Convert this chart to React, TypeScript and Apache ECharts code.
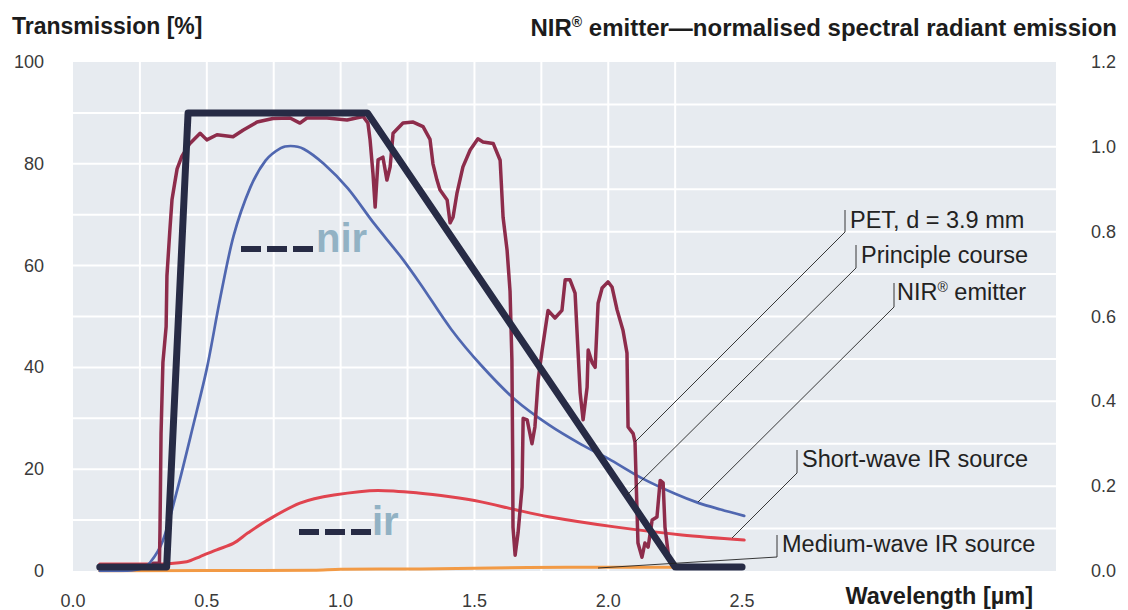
import React, { useEffect, useRef } from 'react';
import * as echarts from 'echarts';

// ---------- data ----------
const xLabelsMax = 2.5;
const leftTicks = { min: 0, max: 100, interval: 20 };
const rightTicks = { min: 0, max: 1.2, interval: 0.2 };

// Principle course (transmission, %)
const principleX = [0.1, 0.35, 0.43, 1.1, 2.25, 2.5];
const principleT = [0.8, 0.8, 90, 90, 0.8, 0.8];

// PET, d = 3.9 mm (transmission, %)
const petX = [0.3, 0.323, 0.325, 0.329, 0.336, 0.348, 0.351, 0.362, 0.37, 0.381, 0.389, 0.407, 0.437, 0.475, 0.5, 0.538, 0.598, 0.635, 0.688, 0.747, 0.811, 0.848, 0.874, 0.949, 1.024, 1.084, 1.102, 1.11, 1.121, 1.129, 1.14, 1.158, 1.173, 1.185, 1.196, 1.233, 1.271, 1.308, 1.334, 1.345, 1.36, 1.371, 1.398, 1.409, 1.42, 1.435, 1.457, 1.484, 1.513, 1.532, 1.57, 1.596, 1.607, 1.622, 1.633, 1.64, 1.643, 1.644, 1.652, 1.663, 1.678, 1.682, 1.697, 1.715, 1.726, 1.738, 1.753, 1.764, 1.775, 1.801, 1.827, 1.839, 1.857, 1.876, 1.895, 1.906, 1.921, 1.925, 1.94, 1.951, 1.962, 1.977, 1.999, 2.014, 2.033, 2.055, 2.07, 2.074, 2.093, 2.1, 2.111, 2.126, 2.137, 2.149, 2.164, 2.182, 2.194, 2.205, 2.212, 2.224];
const petT = [1.5, 1.5, 8, 27, 41, 48, 58, 67, 73, 76.5, 79, 81.5, 84, 86, 84.7, 85.7, 85.3, 86.6, 88.2, 88.9, 89, 88, 89, 89, 88.6, 89.3, 88, 84.7, 78, 71.5, 80.8, 81.3, 76.8, 79.4, 86, 88, 88.2, 87.3, 84.8, 80, 76.8, 74.9, 72.9, 68.4, 69.5, 74.3, 79.4, 82.7, 84.9, 84.3, 84, 80.7, 69.5, 63, 55, 41.4, 21.8, 8.6, 3.1, 7.5, 16.5, 30, 29.7, 25, 28.3, 37.5, 43.4, 47.3, 51.2, 49.7, 51.2, 57.2, 57.2, 54.6, 35, 29.7, 36.1, 43.4, 40.9, 40, 52.6, 55.6, 56.8, 55.8, 51.3, 47.3, 42.8, 28.3, 27, 25.3, 5.5, 2.7, 5.5, 4.7, 10, 10.6, 17.8, 17.3, 8.6, 3.5];

// NIR emitter (normalised emission)
const nirX = [0.1, 0.2, 0.25, 0.288, 0.336, 0.389, 0.448, 0.501, 0.549, 0.6, 0.663, 0.72, 0.776, 0.813, 0.862, 0.937, 1.027, 1.124, 1.226, 1.3, 1.413, 1.525, 1.65, 1.777, 1.9, 2.0, 2.125, 2.25, 2.339, 2.42, 2.508];
const nirE = [0, 0.001, 0.005, 0.02, 0.072, 0.19, 0.34, 0.48, 0.64, 0.79, 0.905, 0.968, 0.997, 1.002, 0.995, 0.96, 0.902, 0.82, 0.74, 0.675, 0.57, 0.485, 0.405, 0.345, 0.298, 0.265, 0.219, 0.182, 0.16, 0.145, 0.13];

// Short-wave IR source (normalised emission)
const swX = [0.1, 0.3, 0.425, 0.475, 0.537, 0.599, 0.654, 0.727, 0.848, 0.975, 1.14, 1.29, 1.409, 1.525, 1.65, 1.777, 2.024, 2.275, 2.508];
const swE = [0.0165, 0.0165, 0.022, 0.034, 0.05, 0.065, 0.09, 0.12, 0.16, 0.179, 0.19, 0.184, 0.175, 0.163, 0.145, 0.128, 0.104, 0.085, 0.073];

// Medium-wave IR source (normalised emission)
const mwX = [0.1, 0.5, 0.9, 1.0, 1.3, 1.7, 2.0, 2.25, 2.5];
const mwE = [0, 0.001, 0.002, 0.004, 0.005, 0.008, 0.009, 0.009, 0.008];

// grid lines
const verticalGrid = [0.25, 0.5, 0.75, 1.0, 1.25, 1.5, 1.75, 2.0, 2.25];
const leftGrid = [10, 20, 30, 40, 50, 60, 70, 80, 90];
const rightGrid = [0.1, 0.2, 0.3, 0.4, 0.5, 0.6, 0.7, 0.8, 0.9, 1.0, 1.1];

const xMax = 3.673;

const zip = (xs: number[], ys: number[]) => xs.map((x, i) => [x, ys[i]]);

// x where the descending edge of the principle course reaches transmission t
function descendX(t: number): number {
  const x0 = principleX[3], x1 = principleX[4];
  const t0 = principleT[3], t1 = principleT[4];
  if (t >= t0) return x0;
  return x0 + ((x1 - x0) * (t0 - t)) / (t0 - t1);
}

const FONT = '"Liberation Sans", Arial, sans-serif';
const INK = '#1c1c1c';
const LABEL_SIZE = 23.5;

export default function App() {
  const ref = useRef<HTMLDivElement>(null);

  useEffect(() => {
    document.body.style.margin = '0';
    if (!ref.current) return;
    const chart = echarts.init(ref.current, undefined, { renderer: 'svg' });

    const ratio = leftTicks.max / rightTicks.max;
    const vItems = verticalGrid.map((x) => [x, 0, x, 100]);
    const lItems = leftGrid.map((v) => [0, v, Math.min(descendX(v), 2.25), v]);
    const rItems = rightGrid.map((v) => [descendX(v * ratio), v * ratio, xMax, v * ratio]);

    const gridSeries = (items: number[][]) => ({
      type: 'custom',
      xAxisIndex: 0,
      yAxisIndex: 0,
      silent: true,
      z: 1,
      clip: true,
      encode: { x: [0, 2], y: [1, 3] },
      data: items,
      renderItem: (_p: any, api: any) => {
        const a = api.coord([api.value(0), api.value(1)]);
        const b = api.coord([api.value(2), api.value(3)]);
        return {
          type: 'line',
          shape: { x1: a[0], y1: a[1], x2: b[0], y2: b[1] },
          style: { stroke: '#ffffff', lineWidth: 2 },
        };
      },
    });

    const lineSeries = (name: string, data: number[][], color: string, width: number, yAxisIndex: number, z: number, smooth: number | boolean) => ({
      name,
      type: 'line',
      data,
      yAxisIndex,
      showSymbol: false,
      symbol: 'none',
      smooth,
      z,
      lineStyle: { color, width, cap: 'round', join: 'round' },
      emphasis: { disabled: true },
    });

    const leader = (pts: number[][]) => ({
      type: 'polyline',
      shape: { points: pts },
      style: { stroke: '#222', lineWidth: 0.9, fill: 'none' },
      silent: true,
      z: 50,
    });

    const label = (x: number, y: number, text: any, rich?: any) => ({
      type: 'text',
      x,
      y,
      z: 50,
      style: {
        text,
        fontFamily: FONT,
        fontSize: LABEL_SIZE,
        fill: '#222',
        align: 'left',
        verticalAlign: 'middle',
        rich,
      },
    });

    const supRich = {
      a: { fontFamily: FONT, fontSize: LABEL_SIZE, fill: '#222' },
      s: { fontFamily: FONT, fontSize: 14, fill: '#222', verticalAlign: 'top', padding: [0, 0, 10, 0] },
    };
    const titleRich = {
      a: { fontFamily: FONT, fontSize: 24, fontWeight: 'bold', fill: INK },
      s: { fontFamily: FONT, fontSize: 14, fontWeight: 'bold', fill: INK, verticalAlign: 'top', padding: [0, 0, 10, 0] },
    };

    const tickFont = { fontFamily: FONT, fontSize: 18, color: '#3a3a3a' };

    chart.setOption({
      animation: false,
      grid: {
        left: 73,
        top: 62,
        width: 983,
        height: 509,
        show: true,
        backgroundColor: '#e7ebf0',
        borderWidth: 0,
        containLabel: false,
      },
      xAxis: {
        type: 'value',
        min: 0,
        max: xMax,
        interval: 0.5,
        axisLine: { show: false },
        axisTick: { show: false },
        splitLine: { show: false },
        axisLabel: {
          margin: 21,
          ...tickFont,
          showMaxLabel: false,
          formatter: (v: number) => (v <= xLabelsMax + 1e-9 ? v.toFixed(1) : ''),
        },
      },
      yAxis: [
        {
          type: 'value',
          min: leftTicks.min,
          max: leftTicks.max,
          interval: leftTicks.interval,
          axisLine: { show: false },
          axisTick: { show: false },
          splitLine: { show: false },
          axisLabel: { margin: 29, ...tickFont },
        },
        {
          type: 'value',
          position: 'right',
          min: rightTicks.min,
          max: rightTicks.max,
          interval: rightTicks.interval,
          axisLine: { show: false },
          axisTick: { show: false },
          splitLine: { show: false },
          axisLabel: {
            margin: 35,
            ...tickFont,
            formatter: (v: number) => v.toFixed(1),
          },
        },
      ],
      series: [
        gridSeries(vItems),
        gridSeries(lItems),
        gridSeries(rItems),
        lineSeries('Medium-wave IR source', zip(mwX, mwE), '#f29a45', 3, 1, 3, 0.3),
        lineSeries('Short-wave IR source', zip(swX, swE), '#e0444f', 3, 1, 4, 0.3),
        lineSeries('NIR® emitter', zip(nirX, nirE), '#5067b0', 2.7, 1, 5, 0.3),
        lineSeries('PET, d = 3.9 mm', zip(petX, petT), '#8d2c4b', 3.5, 0, 6, false),
        lineSeries('Principle course', zip(principleX, principleT), '#272b45', 7, 0, 7, false),
      ],
      graphic: [
        {
          type: 'text',
          x: 12,
          y: 26,
          style: {
            text: 'Transmission [%]',
            fontFamily: FONT,
            fontSize: 23,
            fontWeight: 'bold',
            fill: INK,
            align: 'left',
            verticalAlign: 'middle',
          },
        },
        {
          type: 'text',
          x: 1117,
          y: 27,
          style: {
            text: '{a|NIR}{s|®}{a| emitter—normalised spectral radiant emission}',
            rich: titleRich,
            align: 'right',
            verticalAlign: 'middle',
          },
        },
        {
          type: 'text',
          x: 1033,
          y: 596,
          style: {
            text: 'Wavelength [µm]',
            fontFamily: FONT,
            fontSize: 23.5,
            fontWeight: 'bold',
            fill: INK,
            align: 'right',
            verticalAlign: 'middle',
          },
        },
        // leaders
        leader([[635, 442], [845, 232], [845, 210]]),
        leader([[627, 495], [856, 268], [856, 245]]),
        leader([[698, 502], [894, 307], [894, 283]]),
        leader([[732, 538], [797, 473], [797, 450]]),
        leader([[598, 568], [777, 557], [777, 535]]),
        label(850, 220, 'PET, d = 3.9 mm'),
        label(861, 255, 'Principle course'),
        label(897, 292, '{a|NIR}{s|®}{a| emitter}', supRich),
        label(802, 459, 'Short-wave IR source'),
        label(782, 544, 'Medium-wave IR source'),
        // nir / ir markers
        {
          type: 'line',
          shape: { x1: 241, y1: 249, x2: 313, y2: 249 },
          style: { stroke: '#272b45', lineWidth: 6, lineDash: [20, 6] },
          z: 50,
        },
        {
          type: 'text',
          x: 316,
          y: 238,
          z: 50,
          style: {
            text: 'nir',
            fontFamily: FONT,
            fontSize: 40,
            fontWeight: 'bold',
            fill: '#92b2c4',
            align: 'left',
            verticalAlign: 'middle',
          },
        },
        {
          type: 'line',
          shape: { x1: 299, y1: 532, x2: 371, y2: 532 },
          style: { stroke: '#272b45', lineWidth: 6, lineDash: [20, 6] },
          z: 50,
        },
        {
          type: 'text',
          x: 372,
          y: 521,
          z: 50,
          style: {
            text: 'ir',
            fontFamily: FONT,
            fontSize: 40,
            fontWeight: 'bold',
            fill: '#92b2c4',
            align: 'left',
            verticalAlign: 'middle',
          },
        },
      ],
    });

    return () => chart.dispose();
  }, []);

  return <div ref={ref} style={{ width: 1128, height: 610 }} />;
}
